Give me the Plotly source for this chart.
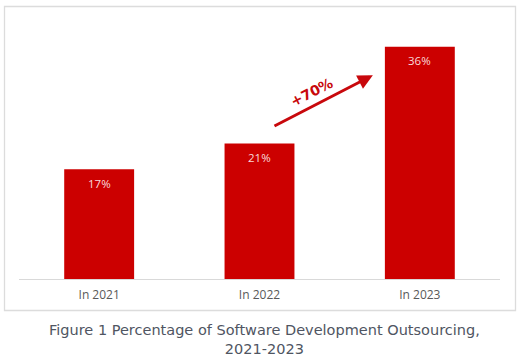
import plotly.graph_objects as go

categories = ["In 2021", "In 2022", "In 2023"]
values = [17, 21, 36]
value_labels = ["17%", "21%", "36%"]
growth_label = "+70%"
caption = "Figure 1 Percentage of Software Development Outsourcing,<br>2021-2023"

RED = "#cc0000"
W, H = 520, 363
ml, mr, mt, mb = 19, 20, 30, 84
pw, ph = W - ml - mr, H - mt - mb

def px_x(px):
    return (px - ml) / pw

def px_y(py):
    return (H - mb - py) / ph

fig = go.Figure()
fig.add_trace(go.Bar(
    x=categories, y=values, marker=dict(color=RED, line=dict(width=0)),
    width=0.436, hoverinfo="skip",
))

annotations = []
for c, v, t in zip(categories, values, value_labels):
    annotations.append(dict(
        x=c, y=v, xref="x", yref="y", text=t, showarrow=False,
        yanchor="middle", yshift=-14,
        font=dict(family="Open Sans", size=11.5, color="#f8dada"),
    ))

# growth arrow between 2022 and 2023
annotations.append(dict(
    x=1.707, y=31.6, ax=1.084, ay=23.6, xref="x", yref="y", axref="x", ayref="y",
    text="", showarrow=True, arrowhead=2, arrowsize=1.0, arrowwidth=3,
    arrowcolor="#c8080c",
))
annotations.append(dict(
    x=1.327, y=29.0, xref="x", yref="y", text="<b>" + growth_label + "</b>",
    showarrow=False, textangle=-27,
    font=dict(family="DejaVu Sans", size=14, color="#c8080c"),
))
annotations.append(dict(
    x=px_x(264), y=px_y(339), xref="paper", yref="paper", text=caption,
    showarrow=False, xanchor="center", yanchor="middle",
    font=dict(family="DejaVu Sans", size=14.5, color="#4f5562"),
))

fig.update_layout(
    width=W, height=H,
    margin=dict(l=ml, r=mr, t=mt, b=mb),
    paper_bgcolor="white", plot_bgcolor="white",
    showlegend=False,
    bargap=0.564,
    annotations=annotations,
    shapes=[dict(
        type="rect", xref="paper", yref="paper",
        x0=px_x(4.5), x1=px_x(515.5), y0=px_y(310.5), y1=px_y(6.5),
        line=dict(color="#dcdcdc", width=1.3), layer="below",
    )],
    xaxis=dict(
        showline=True, linecolor="#d9d9d9", linewidth=1, ticks="",
        showgrid=False, zeroline=False, ticklabelstandoff=5,
        tickfont=dict(family="Open Sans", size=12, color="#595959"),
        range=[-0.5, 2.5], fixedrange=True,
    ),
    yaxis=dict(
        range=[0, ph / 6.45], visible=False, showgrid=False, zeroline=False,
        fixedrange=True,
    ),
)

fig.write_html(
    "out.html",
    config={"displayModeBar": False},
    post_script="document.body.style.margin='0px';document.body.style.overflow='hidden';",
)
